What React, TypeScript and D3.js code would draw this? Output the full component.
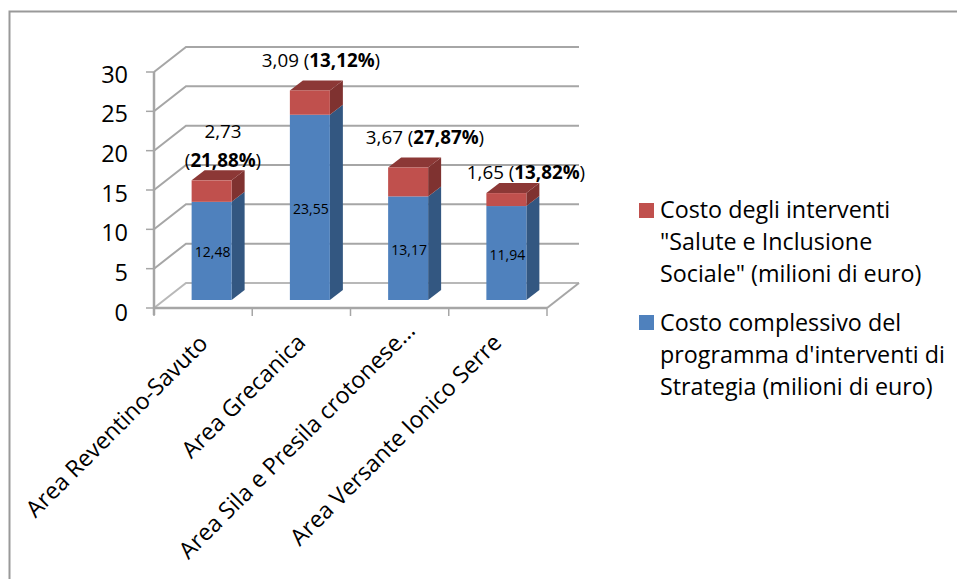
import * as React from 'react'
import * as d3 from 'd3'

const categories = ['Area Reventino-Savuto', 'Area Grecanica', 'Area Sila e Presila crotonese…', 'Area Versante Ionico Serre']
const totalCost = [12.48, 23.55, 13.17, 11.94]
const healthCost = [2.73, 3.09, 3.67, 1.65]
const totalLabels = ['12,48', '23,55', '13,17', '11,94']
const healthLabels = [['2,73'], ['3,09'], ['3,67'], ['1,65']]
const shareLabels = ['21,88%', '13,12%', '27,87%', '13,82%']
const yTicks = [0, 5, 10, 15, 20, 25, 30]
const legendRed = ['Costo degli interventi', '"Salute e Inclusione', 'Sociale" (milioni di euro)']
const legendBlue = ['Costo complessivo del', "programma d'interventi di", 'Strategia (milioni di euro)']

const FONT = '"Open Sans", sans-serif'
const GRID = '#a6a6a6'
const BLUE = '#4f81bd'
const BLUE_SIDE = '#335781'
const RED = '#c0504d'
const RED_TOP = '#8c3836'
const RED_SIDE = '#7f3230'

// projected offset of the back wall and of a bar's depth
const WALL_DX = 32
const WALL_DY = -25
const BAR_DX = 13
const BAR_DY = -10
const FLOOR_DX = 10
const FLOOR_DY = -8
const BAR_W = 40

const xScale = d3.scaleBand<string>().domain(categories).range([154, 547])
const yScale = d3.scaleLinear().domain([0, 30]).range([308, 72])
// tick labels sit a little apart from the ticks, with a slightly wider pitch
const yLabelScale = d3.scaleLinear().domain([0, 30]).range([320.5, 82.5])

function poly(points: [number, number][]) {
    return d3.line()(points) + 'Z'
}

function Bar3D({ x, y0, y1, front, side, top }: { x: number, y0: number, y1: number, front: string, side: string, top?: string }) {
    const r = x + BAR_W
    return <g>
        <path d={poly([[r, y0], [r + BAR_DX, y0 + BAR_DY], [r + BAR_DX, y1 + BAR_DY], [r, y1]])} fill={side} />
        {top && <path d={poly([[x, y1], [x + BAR_DX, y1 + BAR_DY], [r + BAR_DX, y1 + BAR_DY], [r, y1]])} fill={top} />}
        <rect x={x} y={y1} width={BAR_W} height={y0 - y1} fill={front} />
    </g>
}

export default function App() {
    const x0 = xScale.range()[0]
    const x1 = xScale.range()[1]
    const labelPos: [number, number][] = [[224, 145], [321, 67], [425, 144], [526, 179]]
    const catShift: [number, number][] = [[-1, 1], [-1.5, 0], [10, -12], [-2, 0]]
    return <svg width={957} height={579} viewBox="0 0 957 579" fontFamily={FONT}
        style={{ position: 'absolute', left: 0, top: 0, background: '#fff' }}>
        <path d="M9.5 579V11.5H957" fill="none" stroke="#999" strokeWidth={2} />

        {/* back wall and side wall */}
        {yTicks.map(t => <g key={t}>
            <path d={`M${x0} ${yScale(t)}L${x0 + WALL_DX} ${yScale(t) + WALL_DY}H${x1 + WALL_DX}`}
                fill="none" stroke={GRID} strokeWidth={2} opacity={t === 0 ? 0.8 : 1} />
            <line x1={x0 - 8} x2={x0} y1={yScale(t)} y2={yScale(t)} stroke={GRID} strokeWidth={1.5} />
            <text x={128} y={yLabelScale(t)} textAnchor="end" fontSize={23.5} fill="#000">{t}</text>
        </g>)}
        <path d={`M${x1} ${yScale(0)}L${x1 + WALL_DX} ${yScale(0) + WALL_DY}`} stroke={GRID} strokeWidth={2} />
        <line x1={x0} x2={x0} y1={yScale(30)} y2={yScale(0) + 7} stroke={GRID} strokeWidth={2.5} />
        <line x1={x0} x2={x1} y1={yScale(0)} y2={yScale(0)} stroke={GRID} strokeWidth={2.5} />
        {d3.range(5).map(i => {
            const tx = x0 + xScale.step() * i
            return <line key={i} x1={tx} x2={tx} y1={yScale(0)} y2={yScale(0) + 8} stroke={GRID} strokeWidth={1.5} />
        })}

        {/* bars */}
        {categories.map((c, i) => {
            const bx = (xScale(c) as number) + FLOOR_DX + (xScale.bandwidth() - BAR_W) / 2 - 1.5
            const yb = yScale(0) + FLOOR_DY
            const ym = yScale(totalCost[i]) + FLOOR_DY
            const yt = yScale(totalCost[i] + healthCost[i]) + FLOOR_DY
            return <g key={c}>
                <Bar3D x={bx} y0={yb} y1={ym} front={BLUE} side={BLUE_SIDE} />
                <Bar3D x={bx} y0={ym} y1={yt} front={RED} side={RED_SIDE} top={RED_TOP} />
                <text x={bx + BAR_W / 2 + 1} y={(yb + ym) / 2 + 6.5} textAnchor="middle" fontSize={14} fill="#000">{totalLabels[i]}</text>
            </g>
        })}

        {/* data labels */}
        <text x={223} y={138} textAnchor="middle" fontSize={18.8} fill="#000">{healthLabels[0][0]}</text>
        <text x={223} y={167} textAnchor="middle" fontSize={18.8} fill="#000">(<tspan fontWeight="bold">{shareLabels[0]}</tspan>)</text>
        {[1, 2, 3].map(i => <text key={i} x={labelPos[i][0]} y={labelPos[i][1]} textAnchor="middle" fontSize={18.8} fill="#000">
            {healthLabels[i][0]} (<tspan fontWeight="bold">{shareLabels[i]}</tspan>)
        </text>)}

        {/* category labels */}
        {categories.map((c, i) => {
            const tx = (xScale(c) as number) + xScale.bandwidth() / 2 + 7 + catShift[i][0]
            return <text key={c} transform={`translate(${tx} ${yScale(0) + 36 + catShift[i][1]}) rotate(-45)`}
                textAnchor="end" fontSize={23.2} fill="#000">{c}</text>
        })}

        {/* legend */}
        <rect x={639} y={203} width={15} height={15} fill={RED} />
        {legendRed.map((l, i) => <text key={l} x={660} y={218 + i * 32} fontSize={23.3} fill="#000">{l}</text>)}
        <rect x={639} y={315} width={15} height={15} fill={BLUE} />
        {legendBlue.map((l, i) => <text key={l} x={660} y={331 + i * 32} fontSize={23.3} fill="#000">{l}</text>)}
    </svg>
}
